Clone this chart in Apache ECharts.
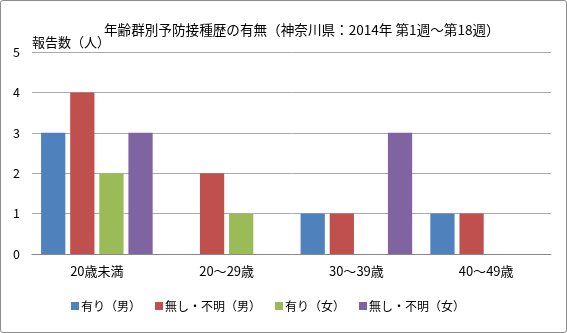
<!DOCTYPE html>
<html><head><meta charset="utf-8">
<script src="https://cdn.jsdelivr.net/npm/echarts@6/dist/echarts.min.js"></script>
<style>
html,body{margin:0;padding:0;background:#fff;}
#frame{position:absolute;left:0;top:0;width:565px;height:331px;border:1px solid #8c8c8c;border-radius:3px;}
#c{position:absolute;left:0;top:0;width:567px;height:333px;}
</style></head>
<body><div id="frame"></div><div id="c"></div>
<script>
const categories = ['20歳未満', '20～29歳', '30～39歳', '40～49歳'];
const seriesNames = ['有り（男）', '無し・不明（男）', '有り（女）', '無し・不明（女）'];
const maleYes = [3, 0, 1, 1];
const maleNo = [4, 2, 1, 1];
const femaleYes = [2, 1, 0, 0];
const femaleNo = [3, 0, 3, 0];
const colors = ['#4F81BD', '#C0504D', '#9BBB59', '#8064A2'];
const values = [maleYes, maleNo, femaleYes, femaleNo];

const font = '"Noto Sans CJK JP", "Noto Sans", sans-serif';
const chart = echarts.init(document.getElementById('c'));
chart.setOption({
  animation: false,
  textStyle: { fontFamily: font, color: '#000' },
  title: {
    text: '年齢群別予防接種歴の有無（神奈川県：2014年 第1週～第18週）',
    left: 99, top: 18,
    textStyle: { fontFamily: font, fontSize: 13.6, fontWeight: 'normal', color: '#000' }
  },
  grid: { left: 32, right: 16, top: 52, bottom: 79 },
  legend: {
    bottom: 16, left: 66,
    itemWidth: 8, itemHeight: 8, itemGap: 14,
    icon: 'rect',
    textStyle: { fontFamily: font, fontSize: 12, color: '#000', padding: [0, 0, 0, -3] },
    data: seriesNames
  },
  xAxis: {
    type: 'category', data: categories,
    axisLine: { lineStyle: { color: '#888', width: 1 } },
    axisTick: { show: false },
    axisLabel: { fontFamily: font, fontSize: 13, color: '#000', margin: 11 }
  },
  yAxis: {
    type: 'value', min: 0, max: 5, interval: 1,
    name: '報告数（人）',
    nameLocation: 'end',
    nameGap: 3,
    nameTextStyle: { fontFamily: font, fontSize: 13, color: '#000', align: 'left', padding: [0, 0, 0, 0] },
    axisLine: { show: false },
    axisTick: { show: false },
    axisLabel: { fontFamily: font, fontSize: 12.5, color: '#000', margin: 19, align: 'left' },
    splitLine: { lineStyle: { color: '#aaa', width: 1 } }
  },
  series: seriesNames.map((n, i) => ({
    name: n, type: 'bar', data: values[i],
    itemStyle: { color: colors[i] },
    barGap: '20%', barCategoryGap: '14%'
  }))
});
</script></body></html>
